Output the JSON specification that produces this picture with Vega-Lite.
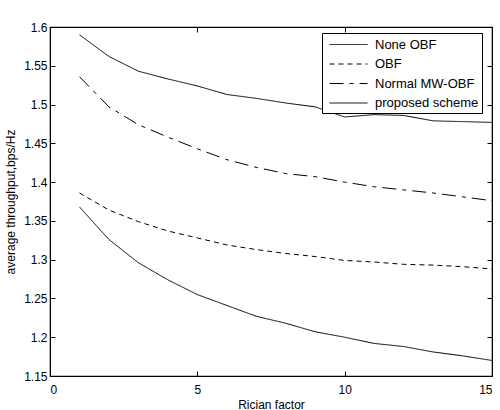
{
  "$schema": "https://vega.github.io/schema/vega-lite/v6.json",
  "width": 442,
  "height": 349,
  "autosize": {"type": "none"},
  "padding": {"left": 50, "top": 27, "right": 8, "bottom": 34},
  "background": "white",
  "config": {
    "view": {"stroke": "black", "strokeWidth": 1.2},
    "font": "Liberation Sans",
    "axis": {
      "domainColor": "black",
      "tickColor": "black",
      "labelColor": "black",
      "titleColor": "black",
      "labelFont": "Liberation Sans",
      "titleFont": "Liberation Sans",
      "labelFontSize": 12,
      "titleFontSize": 12,
      "titleFontWeight": "normal",
      "grid": false,
      "tickSize": -5
    }
  },
  "data": {
    "values": [
      {"k": 1, "v": 1.368, "s": "None OBF"},
      {"k": 2, "v": 1.326, "s": "None OBF"},
      {"k": 3, "v": 1.296, "s": "None OBF"},
      {"k": 4, "v": 1.274, "s": "None OBF"},
      {"k": 5, "v": 1.255, "s": "None OBF"},
      {"k": 6, "v": 1.241, "s": "None OBF"},
      {"k": 7, "v": 1.227, "s": "None OBF"},
      {"k": 8, "v": 1.218, "s": "None OBF"},
      {"k": 9, "v": 1.207, "s": "None OBF"},
      {"k": 10, "v": 1.200, "s": "None OBF"},
      {"k": 11, "v": 1.192, "s": "None OBF"},
      {"k": 12, "v": 1.188, "s": "None OBF"},
      {"k": 13, "v": 1.181, "s": "None OBF"},
      {"k": 14, "v": 1.176, "s": "None OBF"},
      {"k": 15, "v": 1.170, "s": "None OBF"},
      {"k": 1, "v": 1.386, "s": "OBF"},
      {"k": 2, "v": 1.364, "s": "OBF"},
      {"k": 3, "v": 1.349, "s": "OBF"},
      {"k": 4, "v": 1.337, "s": "OBF"},
      {"k": 5, "v": 1.328, "s": "OBF"},
      {"k": 6, "v": 1.319, "s": "OBF"},
      {"k": 7, "v": 1.313, "s": "OBF"},
      {"k": 8, "v": 1.308, "s": "OBF"},
      {"k": 9, "v": 1.304, "s": "OBF"},
      {"k": 10, "v": 1.299, "s": "OBF"},
      {"k": 11, "v": 1.297, "s": "OBF"},
      {"k": 12, "v": 1.294, "s": "OBF"},
      {"k": 13, "v": 1.293, "s": "OBF"},
      {"k": 14, "v": 1.291, "s": "OBF"},
      {"k": 15, "v": 1.288, "s": "OBF"},
      {"k": 1, "v": 1.536, "s": "Normal MW-OBF"},
      {"k": 2, "v": 1.497, "s": "Normal MW-OBF"},
      {"k": 3, "v": 1.474, "s": "Normal MW-OBF"},
      {"k": 4, "v": 1.458, "s": "Normal MW-OBF"},
      {"k": 5, "v": 1.443, "s": "Normal MW-OBF"},
      {"k": 6, "v": 1.429, "s": "Normal MW-OBF"},
      {"k": 7, "v": 1.419, "s": "Normal MW-OBF"},
      {"k": 8, "v": 1.411, "s": "Normal MW-OBF"},
      {"k": 9, "v": 1.407, "s": "Normal MW-OBF"},
      {"k": 10, "v": 1.400, "s": "Normal MW-OBF"},
      {"k": 11, "v": 1.394, "s": "Normal MW-OBF"},
      {"k": 12, "v": 1.390, "s": "Normal MW-OBF"},
      {"k": 13, "v": 1.386, "s": "Normal MW-OBF"},
      {"k": 14, "v": 1.381, "s": "Normal MW-OBF"},
      {"k": 15, "v": 1.376, "s": "Normal MW-OBF"},
      {"k": 1, "v": 1.590, "s": "proposed scheme"},
      {"k": 2, "v": 1.562, "s": "proposed scheme"},
      {"k": 3, "v": 1.543, "s": "proposed scheme"},
      {"k": 4, "v": 1.533, "s": "proposed scheme"},
      {"k": 5, "v": 1.524, "s": "proposed scheme"},
      {"k": 6, "v": 1.513, "s": "proposed scheme"},
      {"k": 7, "v": 1.508, "s": "proposed scheme"},
      {"k": 8, "v": 1.502, "s": "proposed scheme"},
      {"k": 9, "v": 1.497, "s": "proposed scheme"},
      {"k": 10, "v": 1.484, "s": "proposed scheme"},
      {"k": 11, "v": 1.487, "s": "proposed scheme"},
      {"k": 12, "v": 1.486, "s": "proposed scheme"},
      {"k": 13, "v": 1.479, "s": "proposed scheme"},
      {"k": 14, "v": 1.478, "s": "proposed scheme"},
      {"k": 15, "v": 1.477, "s": "proposed scheme"}
    ]
  },
  "layer": [
    {
      "mark": {"type": "line", "color": "black", "strokeWidth": 1},
      "encoding": {
        "x": {
          "field": "k", "type": "quantitative",
          "scale": {"domain": [0, 15], "nice": false, "zero": false},
          "axis": {"values": [0, 5, 10, 15], "title": "Rician factor", "labelPadding": 13, "titlePadding": 4}
        },
        "y": {
          "field": "v", "type": "quantitative",
          "scale": {"domain": [1.15, 1.6], "nice": false, "zero": false},
          "axis": {
            "values": [1.15, 1.2, 1.25, 1.3, 1.35, 1.4, 1.45, 1.5, 1.55, 1.6],
            "format": ".2~f",
            "title": "average throughput,bps/Hz",
            "labelPadding": 8,
            "titlePadding": 6
          }
        },
        "strokeDash": {
          "field": "s", "type": "nominal",
          "scale": {
            "domain": ["None OBF", "OBF", "Normal MW-OBF", "proposed scheme"],
            "range": [[1, 0], [5, 4], [14, 6, 4, 6], [1, 0]]
          },
          "legend": {
            "title": null,
            "orient": "none",
            "legendX": 272,
            "legendY": 6,
            "strokeColor": "black",
            "fillColor": "white",
            "padding": 3,
            "symbolType": "M-0.5,0L4.25,0",
            "symbolStrokeColor": "black",
            "symbolStrokeWidth": 1,
            "symbolSize": 256,
            "labelFont": "Liberation Sans",
            "labelFontSize": 13,
            "labelColor": "black",
            "rowPadding": 3.5,
            "labelOffset": 33
          }
        }
      }
    },
    {
      "mark": {"type": "line", "opacity": 0},
      "encoding": {
        "x": {
          "field": "k", "type": "quantitative",
          "axis": {"orient": "top", "values": [0, 5, 10, 15], "labels": false, "title": null}
        },
        "y": {
          "field": "v", "type": "quantitative",
          "axis": {"orient": "right", "values": [1.15, 1.2, 1.25, 1.3, 1.35, 1.4, 1.45, 1.5, 1.55, 1.6], "labels": false, "title": null}
        }
      }
    }
  ],
  "resolve": {"axis": {"x": "independent", "y": "independent"}}
}
